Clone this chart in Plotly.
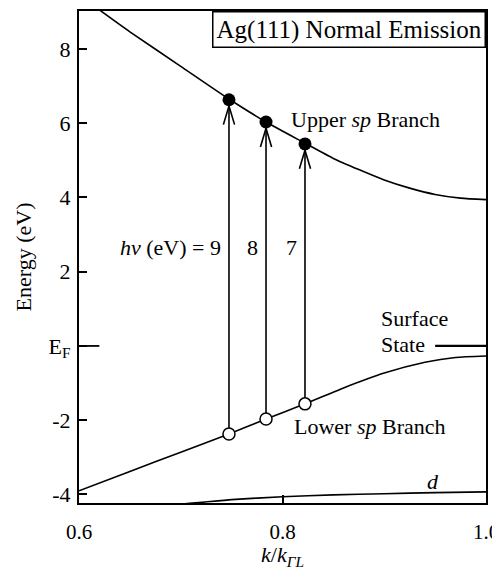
import plotly.graph_objects as go

# ---- data ----
upper_k = [0.615, 0.65, 0.70, 0.7474, 0.7838, 0.8221, 0.85, 0.875, 0.90, 0.925, 0.95, 0.975, 1.0]
upper_E = [9.15, 8.46, 7.53, 6.65, 6.03, 5.46, 5.05, 4.75, 4.47, 4.25, 4.08, 3.98, 3.94]

lower_k = [0.6, 0.65, 0.7, 0.7474, 0.7838, 0.8221, 0.86, 0.9, 0.94, 0.97, 1.0]
lower_E = [-3.9, -3.38, -2.86, -2.37, -1.97, -1.56, -1.13, -0.73, -0.44, -0.31, -0.27]

d_k = [0.6, 0.7, 0.75, 0.8, 0.85, 0.9, 0.95, 1.0]
d_E = [-4.38, -4.26, -4.14, -4.06, -4.01, -3.98, -3.95, -3.93]

surf_k = [0.95, 1.0]
surf_E = [0.0, 0.0]

trans_k = [0.7474, 0.7838, 0.8221]
trans_Ei = [-2.37, -1.97, -1.56]
photon_eV = [9, 8, 7]

ytick_vals = [-4, -2, 0, 2, 4, 6, 8]
ytick_text = ["-4", "-2", "E<sub>F</sub>", "2", "4", "6", "8"]
xtick_vals = [0.6, 0.8, 1.0]
xtick_text = ["0.6", "0.8", "1.0"]

FONT = "Liberation Serif"
BLACK = "black"

trans_Ef = [ei + hv for ei, hv in zip(trans_Ei, photon_eV)]

fig = go.Figure()

curve = dict(color=BLACK, width=1.6, shape="spline", smoothing=0.6)
fig.add_trace(go.Scatter(x=upper_k, y=upper_E, mode="lines", line=curve, hoverinfo="skip"))
fig.add_trace(go.Scatter(x=lower_k, y=lower_E, mode="lines", line=curve, hoverinfo="skip"))
fig.add_trace(go.Scatter(x=d_k, y=d_E, mode="lines", line=curve, hoverinfo="skip"))
fig.add_trace(go.Scatter(x=surf_k, y=surf_E, mode="lines",
                         line=dict(color=BLACK, width=2.2), hoverinfo="skip"))

# arrows: shaft + open V head
tip_gap = 0.17      # eV below the final-state dot
head_len = 0.5      # eV
head_half = 0.0055  # k units
ax, ay = [], []
for k, ei, ef in zip(trans_k, trans_Ei, trans_Ef):
    tip = ef - tip_gap
    ax += [k, k, None, k - head_half, k, k + head_half, None]
    ay += [ei, tip, None, tip - head_len, tip, tip - head_len, None]
fig.add_trace(go.Scatter(x=ax, y=ay, mode="lines", line=dict(color=BLACK, width=1.6),
                         hoverinfo="skip"))

fig.add_trace(go.Scatter(x=trans_k, y=trans_Ef, mode="markers",
                         marker=dict(size=13, color=BLACK), hoverinfo="skip"))
fig.add_trace(go.Scatter(x=trans_k, y=trans_Ei, mode="markers",
                         marker=dict(size=12, color="white", line=dict(color=BLACK, width=1.5)),
                         hoverinfo="skip"))

tf = dict(family=FONT, size=22, color=BLACK)
ann = []
ann.append(dict(x=1, y=1, xref="paper", yref="paper", xanchor="right", yanchor="top",
                text="Ag(111) Normal Emission", showarrow=False,
                font=dict(family=FONT, size=25, color=BLACK),
                bordercolor=BLACK, borderwidth=1.5, borderpad=3, bgcolor="white"))
ann.append(dict(x=trans_k[0] - 0.006, y=2.66, xanchor="right", yanchor="middle",
                text="<i>hν</i> (eV) = %d" % photon_eV[0], showarrow=False, font=tf))
ann.append(dict(x=trans_k[1] - 0.006, y=2.66, xanchor="right", yanchor="middle",
                text=str(photon_eV[1]), showarrow=False, font=tf))
ann.append(dict(x=trans_k[2] - 0.006, y=2.66, xanchor="right", yanchor="middle",
                text=str(photon_eV[2]), showarrow=False, font=tf))
ann.append(dict(x=0.806, y=6.1, xanchor="left", yanchor="middle",
                text="Upper <i>sp</i> Branch", showarrow=False, font=tf))
ann.append(dict(x=0.809, y=-2.18, xanchor="left", yanchor="middle",
                text="Lower <i>sp</i> Branch", showarrow=False, font=tf))
ann.append(dict(x=0.895, y=0.73, xanchor="left", yanchor="middle",
                text="Surface", showarrow=False, font=tf))
ann.append(dict(x=0.895, y=0.05, xanchor="left", yanchor="middle",
                text="State", showarrow=False, font=tf))
ann.append(dict(x=0.948, y=-3.66, xanchor="center", yanchor="middle",
                text="<i>d</i>", showarrow=False, font=tf))

axis_common = dict(showline=True, linecolor=BLACK, linewidth=2, mirror=True,
                   ticks="inside", ticklen=8, tickwidth=1.5, tickcolor=BLACK,
                   showgrid=False, zeroline=False, automargin=False,
                   ticklabeloverflow="allow")

# the page body has an 8px margin, so the figure is sized to fit the 500x578 view
fig.update_layout(
    width=492, height=562,
    margin=dict(l=71, r=14, t=3, b=67),
    paper_bgcolor="white", plot_bgcolor="white",
    showlegend=False,
    annotations=ann,
    shapes=[dict(type="line", xref="paper", yref="y", x0=0, x1=0.05, y0=0, y1=0,
                 line=dict(color=BLACK, width=1.8))],
    xaxis=dict(range=[0.6, 1.0], tickvals=xtick_vals, ticktext=xtick_text,
               ticklabelstandoff=9,
               tickfont=dict(family=FONT, size=21, color=BLACK),
               title=dict(text="<i>k</i>/<i>k</i><sub><i>ΓL</i></sub>",
                          font=dict(family=FONT, size=22, color=BLACK), standoff=13),
               **axis_common),
    yaxis=dict(range=[-4.23, 9.02], tickvals=ytick_vals, ticktext=ytick_text,
               ticklabelstandoff=2,
               tickfont=dict(family=FONT, size=22, color=BLACK),
               title=dict(text="Energy (eV)", font=dict(family=FONT, size=22, color=BLACK),
                          standoff=11),
               **axis_common),
)

fig.write_html("out.html")
